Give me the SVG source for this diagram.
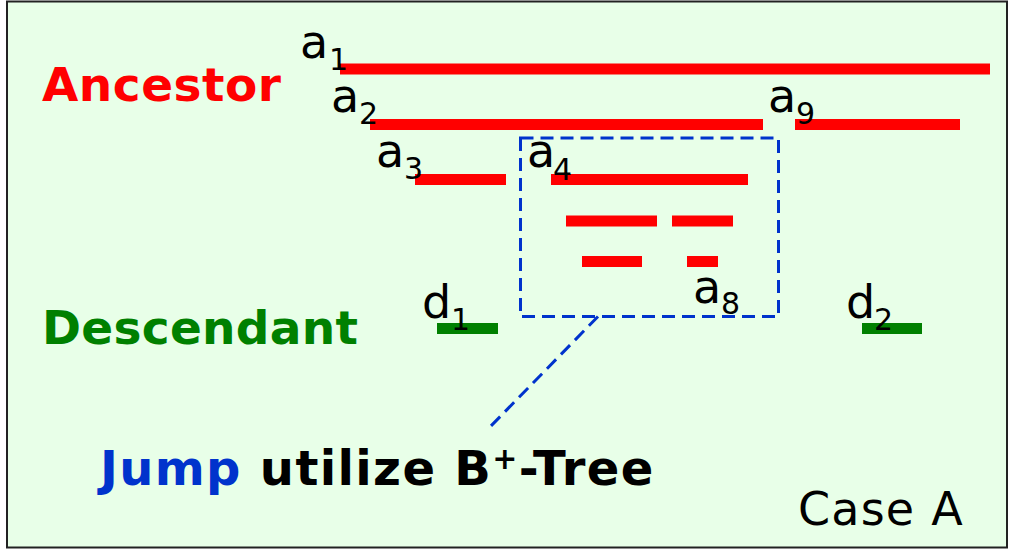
<svg xmlns="http://www.w3.org/2000/svg" width="1009" height="550" viewBox="0 0 1009 550">
<style>
.t{font-family:"DejaVu Sans","Verdana",sans-serif;fill:#000}
.lab{font-size:46px}
.sub{font-size:30px}
.big{font-family:"DejaVu Sans","Verdana",sans-serif;font-weight:bold;font-size:47px}
.seg{stroke:#FF0000;stroke-width:11;fill:none}
.dseg{stroke:#008000;stroke-width:11;fill:none}
.dash{stroke:#0033CC;stroke-width:3;fill:none;stroke-dasharray:13 7}
</style>
<rect x="7" y="1.5" width="1000" height="546" fill="#E8FFE8" stroke="#222" stroke-width="2"/>
<g id="ancestor-label"><text class="big" x="42" y="101" fill="#FF0000" letter-spacing="0.5">Ancestor</text></g>
<g id="descendant-label"><text class="big" x="42" y="344" fill="#008000" letter-spacing="0.3">Descendant</text></g>
<g id="a1"><line class="seg" x1="340" y1="69" x2="990" y2="69"/><text class="t lab" x="300" y="58">a</text><text class="t sub" x="329" y="70">1</text></g>
<g id="a2"><line class="seg" x1="370" y1="124.5" x2="763" y2="124.5"/><text class="t lab" x="331" y="112">a</text><text class="t sub" x="359" y="124">2</text></g>
<g id="a9"><line class="seg" x1="795" y1="124.5" x2="960" y2="124.5"/><text class="t lab" x="768" y="112">a</text><text class="t sub" x="796" y="124">9</text></g>
<g id="a3"><line class="seg" x1="415" y1="179.5" x2="506" y2="179.5"/><text class="t lab" x="376" y="167">a</text><text class="t sub" x="404" y="179">3</text></g>
<g id="a4"><line class="seg" x1="551" y1="179.5" x2="748" y2="179.5"/><text class="t lab" x="527" y="167">a</text><text class="t sub" x="553" y="180">4</text></g>
<g id="a5"><line class="seg" x1="566" y1="221" x2="657" y2="221"/></g>
<g id="a6"><line class="seg" x1="672" y1="221" x2="733" y2="221"/></g>
<g id="a7"><line class="seg" x1="582" y1="261.5" x2="642" y2="261.5"/></g>
<g id="a8"><line class="seg" x1="687" y1="261.5" x2="718" y2="261.5"/><text class="t lab" x="693" y="303">a</text><text class="t sub" x="721" y="314">8</text></g>
<g id="d1"><line class="dseg" x1="437" y1="328.5" x2="498" y2="328.5"/><text class="t lab" x="422" y="318">d</text><text class="t sub" x="451" y="330">1</text></g>
<g id="d2"><line class="dseg" x1="862" y1="328.5" x2="922" y2="328.5"/><text class="t lab" x="846" y="318">d</text><text class="t sub" x="874" y="330">2</text></g>
<g id="jump-box"><rect class="dash" x="520.5" y="138" width="258" height="178.5"/></g>
<g id="connectors"><line class="dash" x1="598" y1="316.5" x2="489" y2="428"/></g>
<g id="caption"><text class="big" x="100" y="485" style="font-size:48px" letter-spacing="1.35"><tspan fill="#0033CC">Jump</tspan><tspan fill="#000"> utilize B</tspan><tspan fill="#000" style="font-size:30px" dy="-16">+</tspan><tspan fill="#000" dy="16">-Tree</tspan></text></g>
<g id="case"><text class="t lab" x="798" y="525" letter-spacing="1.2">Case A</text></g>
</svg>
